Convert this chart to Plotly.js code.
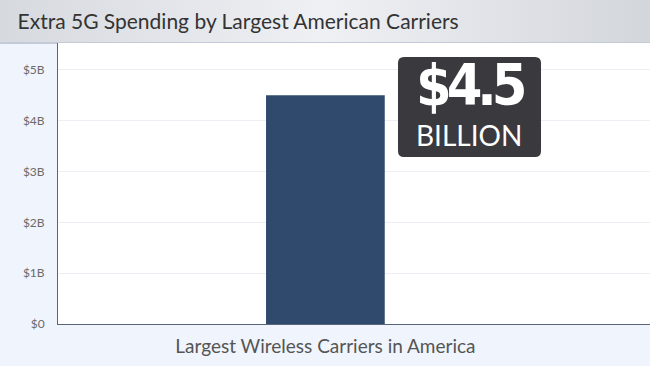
<!DOCTYPE html>
<html>
<head>
<meta charset="utf-8">
<script src="https://cdn.plot.ly/plotly-3.0.1.min.js"></script>
<style>
  html, body { margin: 0; padding: 0; }
  #wrap {
    width: 650px; height: 366px; position: relative;
    background:
      linear-gradient(to right, #d6d9de 0%, #eef0f4 50%, #d3d6db 100%) top left / 650px 42px no-repeat,
      linear-gradient(#c3cbd8, #c3cbd8) 0 42px / 650px 2px no-repeat,
      #f0f4fc;
  }
  #chart { width: 650px; height: 366px; }
</style>
</head>
<body>
<div id="wrap"><div id="chart"></div></div>
<script>
const categories = ["Largest Wireless Carriers in America"];
const spending = [4.5];
const tickValues = [0, 1, 2, 3, 4, 5];
const tickLabels = ["$0", "$1B", "$2B", "$3B", "$4B", "$5B"];
const titleText = "Extra 5G Spending by Largest American Carriers";
const calloutBig = "$4.5";
const calloutSmall = "BILLION";

const trace = {
  type: "bar",
  x: categories,
  y: spending,
  width: 0.222,
  marker: { color: "#304a6e" },
  hoverinfo: "none"
};

function roundRect(x0, y0, x1, y1, rx, ry) {
  return `M ${x0+rx} ${y0} L ${x1-rx} ${y0} Q ${x1} ${y0} ${x1} ${y0+ry} ` +
         `L ${x1} ${y1-ry} Q ${x1} ${y1} ${x1-rx} ${y1} L ${x0+rx} ${y1} ` +
         `Q ${x0} ${y1} ${x0} ${y1-ry} L ${x0} ${y0+ry} Q ${x0} ${y0} ${x0+rx} ${y0} Z`;
}

const layout = {
  width: 650, height: 366,
  margin: { l: 58, r: 0, t: 43, b: 42 },
  paper_bgcolor: "rgba(0,0,0,0)",
  plot_bgcolor: "#ffffff",
  showlegend: false,
  title: {
    text: titleText,
    font: { family: "Lato, 'Open Sans', sans-serif", size: 21, color: "#333333" },
    x: 0.027, xanchor: "left", xref: "container",
    y: 1 - 22/366, yanchor: "middle", yref: "container"
  },
  xaxis: {
    type: "category",
    range: [-0.5, 0.607],
    showgrid: false,
    showline: true, linecolor: "#5b6579", linewidth: 1,
    ticks: "", ticklabelstandoff: 5,
    tickfont: { family: "Lato, 'Open Sans', sans-serif", size: 19, color: "#555555" },
    fixedrange: true
  },
  yaxis: {
    range: [0, 5.53],
    tickvals: tickValues,
    ticktext: tickLabels,
    showgrid: true, gridcolor: "#eceef4", gridwidth: 1,
    zeroline: false,
    showline: true, linecolor: "#5b6579", linewidth: 1,
    ticks: "", ticklabelstandoff: 10,
    tickfont: { family: "Lato, 'Open Sans', sans-serif", size: 12, color: "#6b6b6b" },
    fixedrange: true
  },
  shapes: [{
    type: "path", xref: "paper", yref: "paper",
    path: roundRect(0.5743, 0.5943, 0.8159, 0.9502, 0.0101, 0.0214),
    fillcolor: "#3a393e", line: { width: 0 }
  }],
  annotations: [
    {
      xref: "paper", yref: "paper", x: 0.6951, y: 0.852,
      text: "<b>" + calloutBig + "</b>", showarrow: false,
      xanchor: "center", yanchor: "middle",
      font: { family: "'Liberation Sans Narrow', 'DejaVu Sans Condensed', 'Roboto', sans-serif", size: 57, color: "#ffffff" }
    },
    {
      xref: "paper", yref: "paper", x: 0.6951, y: 0.672,
      text: calloutSmall, showarrow: false,
      xanchor: "center", yanchor: "middle",
      font: { family: "Lato, 'Open Sans', sans-serif", size: 28, color: "#ffffff" }
    }
  ]
};

Plotly.newPlot("chart", [trace], layout, { displayModeBar: false, staticPlot: true }).then(function () {
  const t = document.querySelector('.annotation[data-index="0"] text');
  if (t) {
    t.style.letterSpacing = "-5px";
  }
});
</script>
</body>
</html>
